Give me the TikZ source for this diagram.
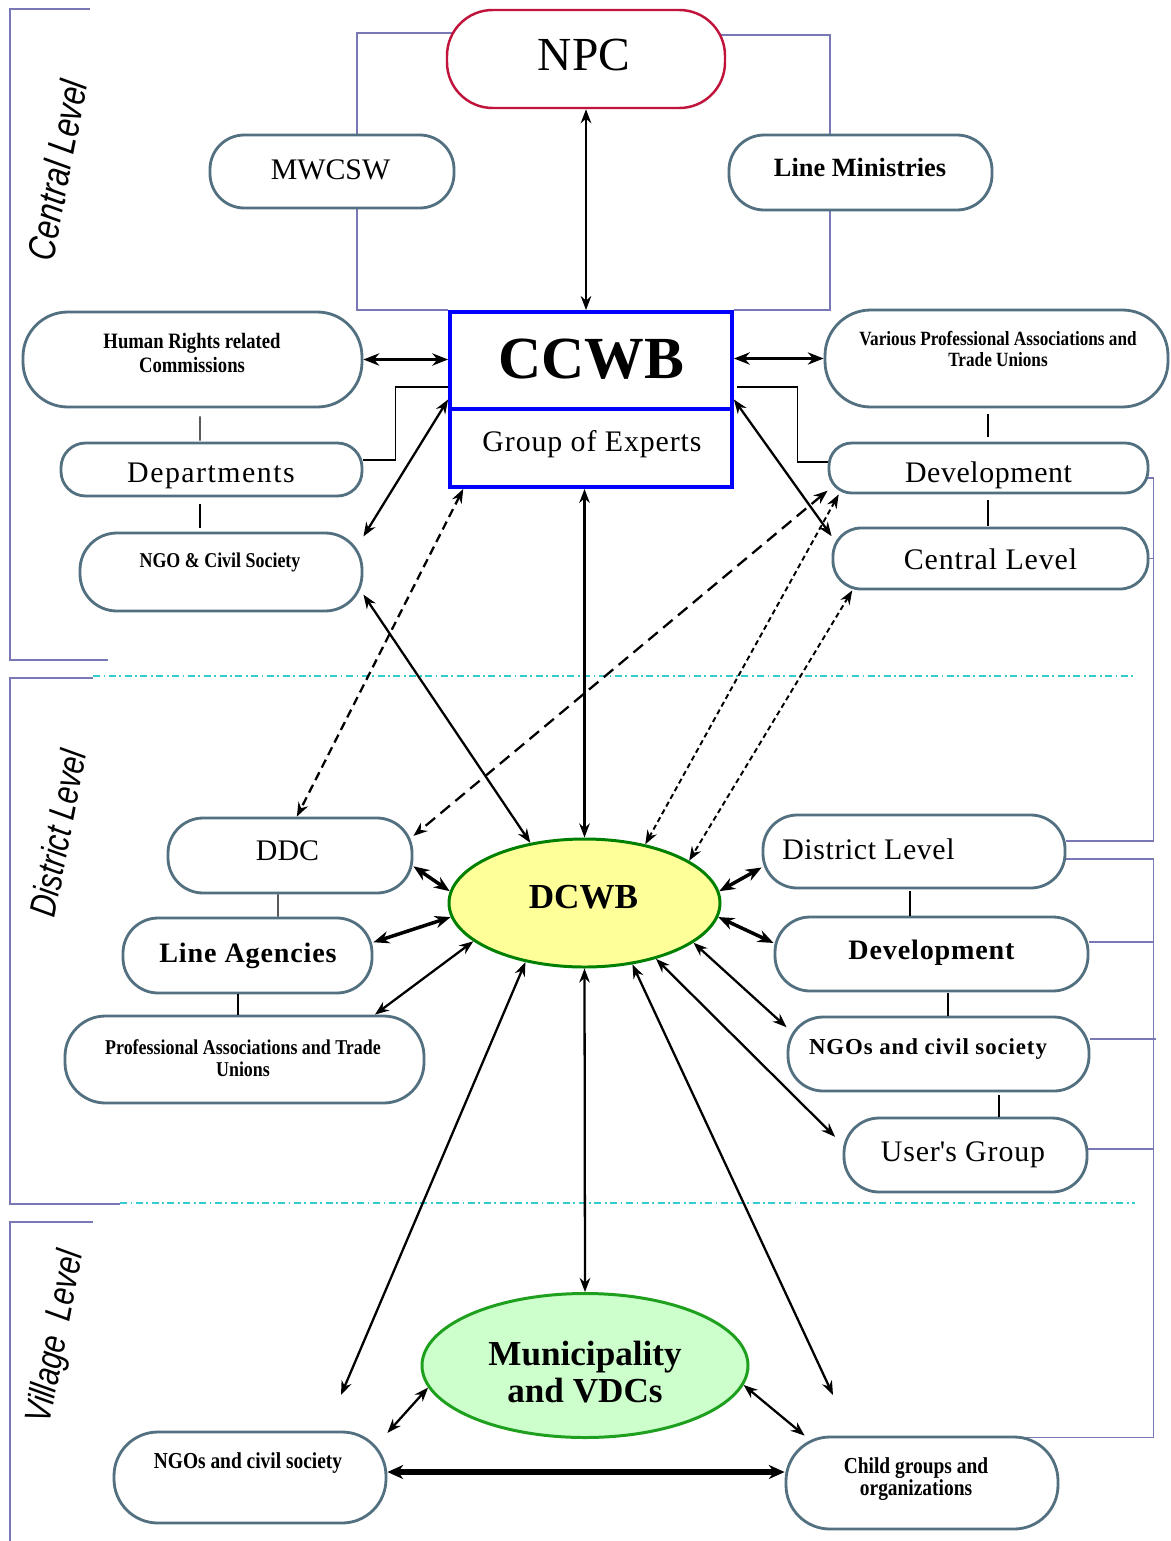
\documentclass[tikz,border=0pt]{standalone}
\usepackage{fontspec}
\setmainfont{Liberation Serif}
\newfontfamily\cnd[FakeStretch=0.85]{Liberation Serif}
\newfontfamily\lvlf{Liberation Sans}
\usetikzlibrary{arrows.meta,calc,shapes.geometric}
\pgfdeclarelayer{bg}
\pgfsetlayers{bg,main}
\definecolor{boxc}{RGB}{82,112,128}
\definecolor{brkc}{RGB}{120,120,180}
\definecolor{cyanl}{RGB}{51,204,204}
\definecolor{npcred}{RGB}{192,20,60}
\definecolor{dyel}{RGB}{255,255,153}
\definecolor{dgrn}{RGB}{0,128,0}
\definecolor{mgrn}{RGB}{204,255,204}
\definecolor{mgrnb}{RGB}{30,160,30}
\newcommand{\fsz}[2]{\fontsize{#1}{#2}\selectfont}
\newcommand{\lsp}[2]{{\addfontfeature{LetterSpace=#1}#2}}
\tikzset{
  rb/.style={draw=boxc, line width=1.6pt, fill=white, rectangle, inner sep=0pt},
  sz/.style 2 args={minimum width=#1*0.02cm, minimum height=#2*0.02cm},
  tx/.style={inner sep=0pt, align=center},
  brk/.style={draw=brkc, line width=0.9pt},
  cyd/.style={draw=cyanl, line width=1.2pt, dash pattern=on 4pt off 2pt on 1pt off 2pt},
  cn/.style={draw=black, line width=0.7pt},
  elb/.style={draw=black, line width=0.6pt},
  arr/.style={line width=1.3pt, <->, >={Stealth[length=8pt,width=6pt]}},
  arrT/.style={line width=2pt, <->, >={Stealth[length=9pt,width=7pt]}},
  arrTT/.style={line width=3pt, <->, >={Stealth[length=9pt,width=8pt]}},
  dsha/.style={dash pattern=on 5pt off 3pt},
  dshb/.style={dash pattern=on 7pt off 4pt},
  dshc/.style={line width=1.1pt, dash pattern=on 3pt off 2pt},
}
\begin{document}
\begin{tikzpicture}[x=0.02cm, y=-0.02cm]
\useasboundingbox (0,0) rectangle (1170,1541);
\begin{pgfonlayer}{bg}
\fill[white] (0,0) rectangle (1170,1541);
\end{pgfonlayer}

% ---------- central level ----------
\node[rb, draw=npcred, line width=1.4pt, sz={278}{98}, rounded corners=26pt] (npc) at (586,59) {};
\node[tx, font=\fsz{27}{30}] (npcT) at (584,55) {NPC};
\node[rb, sz={244}{73}, rounded corners=19.5pt] (mw) at (332,171.5) {};
\node[tx, font=\fsz{17}{20}] (mwT) at (330.5,170) {MWCSW};
\node[rb, sz={263}{75}, rounded corners=20pt] (lm) at (860.5,172.5) {};
\node[tx, font=\bfseries\fsz{15}{18}] (lmT) at (860,167) {Line Ministries};

\node[draw=blue, line width=2.2pt, fill=white, inner sep=0pt, sz={282}{175}] (ccwb) at (591,399.5) {};
\draw[blue, line width=2.2pt] ($(ccwb.north west)+(0,99)$) -- ($(ccwb.north east)+(0,99)$);
\node[tx, font=\bfseries\fsz{34}{36}] (ccwbT) at (591.5,359) {CCWB};
\node[tx, font=\fsz{17}{20}] (goe) at (592,444) {\lsp{3}{Group of Experts}};

\node[rb, sz={339}{95}, rounded corners=25.5pt] (hr) at (192.5,359.5) {};
\node[tx, font=\cnd\bfseries\fsz{12.5}{14}] (hrT) at (192,353) {Human Rights related\\Commissions};
\node[rb, sz={301}{53}, rounded corners=14pt] (dep) at (211.5,469.5) {};
\node[tx, font=\fsz{17}{20}] (depT) at (211,476) {\lsp{5}{Departments}};
\node[rb, sz={282}{78}, rounded corners=21pt] (ngo) at (221,572) {};
\node[tx, font=\cnd\bfseries\fsz{12}{14}] (ngoT) at (220,562) {NGO \& Civil Society};

\node[rb, sz={343}{97}, rounded corners=26pt] (var) at (996.5,358.5) {};
\node[tx, font=\cnd\bfseries\fsz{11.5}{12.5}] (varT) at (998,349) {Various Professional Associations and\\Trade Unions};
\node[rb, sz={319}{50}, rounded corners=13pt] (devu) at (988.5,468) {};
\node[tx, font=\fsz{17}{20}] (devuT) at (988.5,475) {\lsp{2}{Development}};
\node[rb, sz={315}{61}, rounded corners=16pt] (cl) at (990.5,558.5) {};
\node[tx, font=\fsz{17}{20}] (clT) at (990.5,559) {\lsp{3}{Central Level}};

% ---------- district level ----------
\node[rb, sz={244}{75}, rounded corners=20pt] (ddc) at (290,855.5) {};
\node[tx, font=\fsz{17}{20}] (ddcT) at (287.5,851) {DDC};
\node[rb, sz={249}{75}, rounded corners=20pt] (la) at (247.5,955.5) {};
\node[tx, font=\bfseries\fsz{16}{19}] (laT) at (248,956) {\lsp{3}{Line Agencies}};
\node[rb, sz={359}{87}, rounded corners=23pt] (pa) at (244.5,1059.5) {};
\node[tx, font=\cnd\bfseries\fsz{12}{12.5}] (paT) at (243,1058) {Professional Associations and Trade\\Unions};

\node[rb, sz={302}{73}, rounded corners=19.5pt] (dl) at (914,851.5) {};
\node[tx, anchor=west, font=\fsz{17}{20}] (dlT) at (782,849) {\lsp{2}{District Level}};
\node[rb, sz={313}{74}, rounded corners=20pt] (dd) at (931.5,954) {};
\node[tx, font=\bfseries\fsz{16}{19}] (ddT) at (931.5,953) {\lsp{3}{Development}};
\node[rb, sz={301}{74}, rounded corners=20pt] (ngod) at (938.5,1054) {};
\node[tx, font=\bfseries\fsz{13}{15}] (ngodT) at (928,1049) {\lsp{4}{NGOs and civil society}};
\node[rb, sz={243}{74}, rounded corners=20pt] (ug) at (965.5,1155) {};
\node[tx, font=\fsz{17}{20}] (ugT) at (963,1155) {\lsp{3}{User\textquotesingle s Group}};

\node[ellipse, draw=dgrn, line width=1.7pt, fill=dyel, inner sep=0pt, sz={271}{128}] (dcwb) at (584.5,903) {};
\node[tx, font=\bfseries\fsz{20}{22}] (dcwbT) at (583.5,897) {DCWB};

% ---------- village level ----------
\node[ellipse, draw=mgrnb, line width=1.7pt, fill=mgrn, inner sep=0pt, sz={326}{144}] (mun) at (585,1365.5) {};
\node[tx, font=\bfseries\fsz{20}{21.5}] (munT) at (585,1372) {Municipality\\and VDCs};
\node[rb, sz={272}{91}, rounded corners=25pt] (vngo) at (250,1477.5) {};
\node[tx, font=\cnd\bfseries\fsz{13}{15}] (vngoT) at (248,1463) {NGOs and civil society};
\node[rb, sz={272}{92}, rounded corners=25pt] (child) at (922,1483) {};
\node[tx, font=\cnd\bfseries\fsz{13}{13}] (childT) at (916,1479) {Child groups and\\organizations};

% ---------- level labels ----------
\node[tx, rotate=79, font=\lvlf\itshape\fsz{22}{24}] (lvC) at (57,170) {\scalebox{0.8}[1]{Central Level}};
\node[tx, rotate=79, font=\lvlf\itshape\fsz{21}{24}] (lvD) at (58,833) {\scalebox{0.8}[1]{District Level}};
\node[tx, rotate=79, font=\lvlf\itshape\fsz{21}{24}] (lvV) at (57,1337) {\scalebox{0.8}[1]{Village\ \ Level}};

\coordinate (f1) at (341,1395);
\coordinate (f2) at (833,1395);

% ---------- background lines ----------
\begin{pgfonlayer}{bg}
\draw[brk] (90,9) -- (10,9) -- (10,660) -- (108,660);
\draw[brk] (93,678) -- (10,678) -- (10,1204) -- (120,1204);
\draw[brk] (93,1222) -- (10,1222) -- (10,1541);
\draw[cyd] (93,676) -- (1135,676);
\draw[cyd] (120,1203) -- (1135,1203);

\draw[brk] ($(npc.west)+(15,-26)$) -- ++(-104,0) |- (ccwb.north west);
\draw[brk] ($(npc.east)+(-15,-24)$) -- ++(119,0) |- (ccwb.north east);
\draw[brk] ($(devu.east)+(-3,10)$) -- ++(7,0) |- ($(dl.east)+(0,-10.5)$);
\draw[brk] (cl.east) -- ++(4,0);
\draw[brk] ($(dl.east)+(0,7.5)$) -- ++(87,0) |- ($(child.north east)+(-42,2)$);
\draw[brk] ($(dd.east)+(0,-12)$) -- ++(64,0);
\draw[brk] ($(ngod.east)+(0,-15)$) -- ++(66,0);
\draw[brk] ($(ug.east)+(0,-6)$) -- ++(65,0);

\draw[elb] ($(dep.east)+(0,-9.5)$) -- ++(32,0) |- ($(ccwb.west)+(0,-12.5)$);
\draw[elb] ($(ccwb.east)+(3,-12.5)$) -- ++(61,0) |- ($(devu.west)+(0,-6)$);
\end{pgfonlayer}

% ---------- stack connectors ----------
\draw[cn] ($(hr.south)+(7.5,8)$) -- ($(dep.north)+(-11.5,-1)$);
\draw[cn] ($(dep.south)+(-11.5,7)$) -- ($(ngo.north)+(-21,-4)$);
\draw[cn] ($(var.south)+(-8.5,6)$) -- ($(devu.north)+(-0.5,-5)$);
\draw[cn] ($(devu.south)+(-0.5,6)$) -- ($(cl.north)+(-2.5,-1)$);
\draw[cn] ($(ddc.south)+(-12,0)$) -- ($(la.north)+(30.5,0)$);
\draw[cn] ($(la.south)+(-9.5,0)$) -- ($(pa.north)+(-6.5,0)$);
\draw[cn] ($(dl.south)+(-4,2)$) -- ($(dd.north)+(-21.5,0)$);
\draw[cn] ($(dd.south)+(16.5,1)$) -- ($(ngod.north)+(9.5,0)$);
\draw[cn] ($(ngod.south)+(60.5,3)$) -- ($(ug.north)+(33.5,0)$);

% ---------- arrows ----------
\draw[arr] (npc.south) -- (npc.south |- ccwb.north);
\draw[arrT] (hr.east) -- (hr.east -| ccwb.west);
\draw[arrT] (var.west -| ccwb.east) -- (var.west);
\draw[arr] (ccwb.west) -- (ngo.14);
\draw[arr] (ccwb.east) -- (cl.172);
\draw[arr] (dcwb.north |- ccwb.south) -- (dcwb.north);
\draw[arr] (ngo.-9) -- (dcwb.132);
\draw[arr, dsha] (ccwb.215) -- (ddc.80);
\draw[arr, dshb] (devu.188) -- (ddc.9);
\draw[arr, dshc] (devu.190) -- (dcwb.44);
\draw[arr, dshc] (cl.193) -- (dcwb.22);
\draw[arrT] (ddc.-5) -- (dcwb.175);
\draw[arrT] (la.6) -- (dcwb.186);
\draw[arr] (pa.19) -- (dcwb.199);
\draw[arrT] (dcwb.5) -- (dl.186);
\draw[arrT] (dcwb.-6) -- (dd.176);
\draw[arr] (dcwb.-20) -- (ngod.170);
\draw[arr, shorten >=6pt] (dcwb.-38) -- (ug.175);
\draw[arr] (dcwb.-135) -- (f1);
\draw[arr] (dcwb.south) -- (mun.north);
\draw[arr] (dcwb.-52) -- (f2);
\draw[arr] (mun.188) -- (vngo.18);
\draw[arr] (mun.-7) -- (child.158);
\draw[arrTT] ($(vngo.east)+(0,-5.5)$) -- ($(child.west)+(0,-11)$);
\end{tikzpicture}
\end{document}
